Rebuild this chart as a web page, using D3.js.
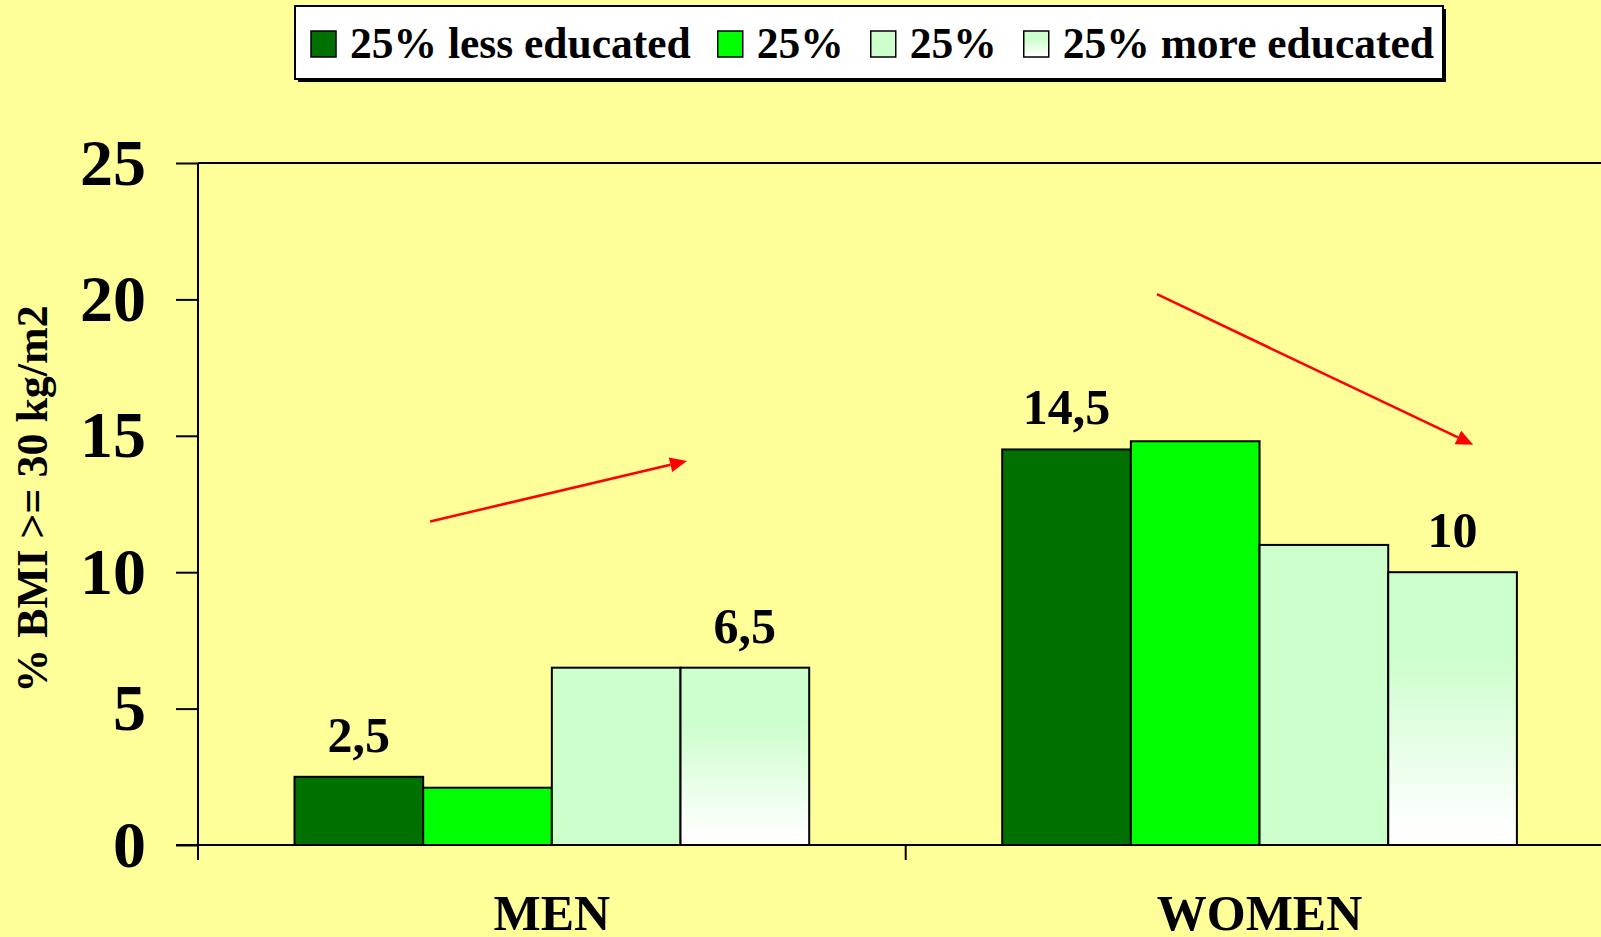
<!DOCTYPE html>
<html>
<head>
<meta charset="utf-8">
<script src="https://cdn.jsdelivr.net/npm/d3@7"></script>
<style>
  html, body { margin: 0; padding: 0; background: #ffff99; overflow: hidden; }
  svg { display: block; font-family: "Liberation Serif", "Times New Roman", serif; font-weight: bold; }
</style>
</head>
<body>
<svg id="chart" width="1601" height="937"></svg>
<script>
// ---- data ----
const categories = ['MEN', 'WOMEN'];
const seriesNames = ['25% less educated', '25%', '25%', '25% more educated'];
const menValues = [2.5, 2.1, 6.5, 6.5];
const womenValues = [14.5, 14.8, 11, 10];
const yTicks = [0, 5, 10, 15, 20, 25];
// which bars carry a value label (series index)
const labelledSeries = [0, 3];
// trend arrows: category, start (band fraction, value), tip (band fraction, value)
const arrowCats = ['MEN', 'WOMEN'];
const arrowStart = [[0.328, 11.86], [0.355, 20.19]];
const arrowTip = [[0.691, 14.08], [0.802, 14.67]];

const seriesColors = ['#007000', '#00ff00', '#ccffcc', 'url(#fadeWhite)'];
const valuesByCat = { MEN: menValues, WOMEN: womenValues };

const fmt = d3.formatLocale({ decimal: ',', thousands: '.', grouping: [3], currency: ['', ''] }).format('.1~f');

const svg = d3.select('#chart');

// gradient for last series (light green on top fading to white)
const defs = svg.append('defs');
const grad = defs.append('linearGradient')
  .attr('id', 'fadeWhite')
  .attr('x1', 0).attr('y1', 0).attr('x2', 0).attr('y2', 1);
grad.append('stop').attr('offset', '0%').attr('stop-color', '#ccffcc');
grad.append('stop').attr('offset', '30%').attr('stop-color', '#ccffcc');
grad.append('stop').attr('offset', '95%').attr('stop-color', '#ffffff');

// ---- scales ----
const left = 198;
const catWidth = 707.7;
const x0 = d3.scaleBand()
  .domain(categories)
  .range([left, left + catWidth * categories.length])
  .padding(0);

const x1 = d3.scaleBand()
  .domain(d3.range(seriesNames.length))
  .range([0, x0.bandwidth()])
  .paddingInner(0)
  .paddingOuter(0.75);

const y = d3.scaleLinear()
  .domain([0, 25])
  .range([845, 163]);

const plotRight = x0.range()[1];

// ---- plot frame ----
// top border of the plot area
svg.append('line')
  .attr('x1', left).attr('x2', plotRight)
  .attr('y1', y(25)).attr('y2', y(25))
  .attr('stroke', '#000').attr('stroke-width', 2);

// ---- bars ----
const groups = svg.selectAll('.cat')
  .data(categories)
  .join('g')
  .attr('class', 'cat')
  .attr('transform', c => `translate(${x0(c)},0)`);

groups.selectAll('rect')
  .data(c => valuesByCat[c].map((v, i) => ({ v, i })))
  .join('rect')
  .attr('x', d => x1(d.i))
  .attr('y', d => y(d.v))
  .attr('width', x1.bandwidth())
  .attr('height', d => y(0) - y(d.v))
  .attr('fill', d => seriesColors[d.i])
  .attr('stroke', '#000')
  .attr('stroke-width', 2);

groups.selectAll('text.val')
  .data(c => valuesByCat[c].map((v, i) => ({ v, i })).filter(d => labelledSeries.includes(d.i)))
  .join('text')
  .attr('class', 'val')
  .attr('x', d => x1(d.i) + x1.bandwidth() / 2)
  .attr('y', d => y(d.v) - 25)
  .attr('text-anchor', 'middle')
  .attr('font-size', 50)
  .text(d => fmt(d.v));

// ---- y axis ----
const yAxis = svg.append('g')
  .attr('transform', `translate(${left},0)`)
  .call(d3.axisLeft(y).tickValues(yTicks).tickSize(22).tickPadding(30).tickSizeOuter(0));
yAxis.select('.domain').remove();
yAxis.selectAll('.tick line').attr('stroke', '#000').attr('stroke-width', 2);
yAxis.selectAll('.tick text')
  .attr('font-size', 66)
  .attr('fill', '#000')
  .attr('font-family', '"Liberation Serif", "Times New Roman", serif')
  .attr('font-weight', 'bold');

// vertical axis line (runs down past the baseline as the first category tick)
svg.append('line')
  .attr('x1', left).attr('x2', left)
  .attr('y1', y(25)).attr('y2', y(0) + 15)
  .attr('stroke', '#000').attr('stroke-width', 2);

// baseline
svg.append('line')
  .attr('x1', left - 22).attr('x2', plotRight)
  .attr('y1', y(0)).attr('y2', y(0))
  .attr('stroke', '#000').attr('stroke-width', 2);

// category separators
svg.selectAll('.cattick')
  .data(categories.slice(1))
  .join('line')
  .attr('class', 'cattick')
  .attr('x1', c => x0(c)).attr('x2', c => x0(c))
  .attr('y1', y(0)).attr('y2', y(0) + 15)
  .attr('stroke', '#000').attr('stroke-width', 2);

// category labels
svg.selectAll('.catlabel')
  .data(categories)
  .join('text')
  .attr('class', 'catlabel')
  .attr('x', c => x0(c) + x0.bandwidth() / 2)
  .attr('y', 930)
  .attr('text-anchor', 'middle')
  .attr('font-size', 50)
  .text(c => c);

// y title
svg.append('text')
  .attr('transform', 'translate(47,499) rotate(-90)')
  .attr('text-anchor', 'middle')
  .attr('font-size', 44)
  .text('% BMI >= 30 kg/m2');

// ---- trend arrows ----
arrowCats.forEach((c, k) => {
  const sx = x0(c) + arrowStart[k][0] * x0.bandwidth();
  const sy = y(arrowStart[k][1]);
  const tx = x0(c) + arrowTip[k][0] * x0.bandwidth();
  const ty = y(arrowTip[k][1]);
  const ang = Math.atan2(ty - sy, tx - sx);
  const len = 17, half = 7.5;
  const bx = tx - len * Math.cos(ang), by = ty - len * Math.sin(ang);
  svg.append('line')
    .attr('x1', sx).attr('y1', sy).attr('x2', bx).attr('y2', by)
    .attr('stroke', '#ff0000').attr('stroke-width', 2.5);
  const px = -Math.sin(ang) * half, py = Math.cos(ang) * half;
  svg.append('polygon')
    .attr('points', [[tx, ty], [bx + px, by + py], [bx - px, by - py]].map(p => p.join(',')).join(' '))
    .attr('fill', '#ff0000');
});

// ---- legend ----
const legend = svg.append('g');
const legX = 295, legY = 6, legW = 1148, legH = 73;
legend.append('rect')
  .attr('x', legX + 3).attr('y', legY + 3).attr('width', legW).attr('height', legH)
  .attr('fill', '#000');
legend.append('rect')
  .attr('x', legX).attr('y', legY).attr('width', legW).attr('height', legH)
  .attr('fill', '#fff').attr('stroke', '#000').attr('stroke-width', 2);

let cx = 311;
seriesNames.forEach((name, i) => {
  legend.append('rect')
    .attr('x', cx).attr('y', 31).attr('width', 25).attr('height', 26)
    .attr('fill', seriesColors[i])
    .attr('stroke', '#000').attr('stroke-width', 1.5);
  const t = legend.append('text')
    .attr('x', cx + 39).attr('y', 58)
    .attr('font-size', 43.5)
    .text(name);
  cx += 39 + t.node().getComputedTextLength() + 27;
});
</script>
</body>
</html>
